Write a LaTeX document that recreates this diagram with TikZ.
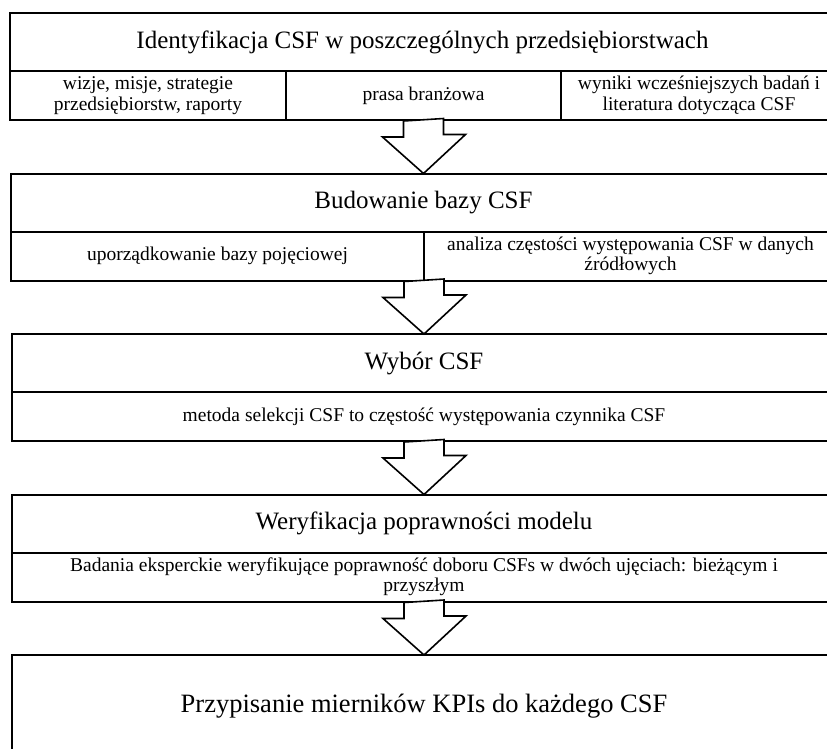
\documentclass[tikz,border=0pt]{standalone}
\usepackage{fontspec}
\setmainfont{Liberation Serif}
\usetikzlibrary{positioning, fit, calc}

\begin{document}
\begin{tikzpicture}[
  x=1pt, y=-1pt,
  % Node Styles
  titlerow/.style={rectangle, draw, line width=1pt, minimum width=824pt, minimum height=57pt, inner sep=0pt, align=center, font=\fontsize{25}{29}\selectfont},
  cellrow/.style={rectangle, draw, line width=1pt, minimum height=48pt, inner sep=0pt, align=center, font=\fontsize{19.5}{20.5}\selectfont},
  bigrow/.style={rectangle, draw, line width=1pt, minimum width=824pt, minimum height=102pt, inner sep=0pt, align=center, font=\fontsize{26.5}{31}\selectfont},
  frame/.style={rectangle, draw, line width=2pt, inner sep=0pt},
  % Arrow Styles
  blockarrow/.style={draw, line width=1.6pt, fill=white, line join=miter}
]
\useasboundingbox (0,0) rectangle (827,748);
\clip (0,0) rectangle (827,748);

% Nodes
\node[titlerow, anchor=north west] (IdentTitle) at (10,13) {Identyfikacja CSF w poszczególnych przedsiębiorstwach};
\node[cellrow, minimum width=275pt, below right=0pt and 0pt of IdentTitle.south west] (IdentSrcA) {wizje, misje, strategie\\ przedsiębiorstw, raporty};
\node[cellrow, minimum width=274pt, right=0pt of IdentSrcA] (IdentSrcB) {prasa branżowa};
\node[cellrow, minimum width=275pt, right=0pt of IdentSrcB] (IdentSrcC) {wyniki wcześniejszych badań i\\ literatura dotycząca CSF};
\node[frame, fit=(IdentTitle) (IdentSrcA) (IdentSrcC)] (Ident) {};

\node[titlerow, below=52.5pt of Ident] (BuildTitle) {Budowanie bazy CSF};
\node[cellrow, minimum width=412pt, below right=0pt and 0pt of BuildTitle.south west] (BuildSrcA) {uporządkowanie bazy pojęciowej};
\node[cellrow, minimum width=412pt, right=0pt of BuildSrcA] (BuildSrcB) {analiza częstości występowania CSF w danych\\ źródłowych};
\node[frame, fit=(BuildTitle) (BuildSrcA) (BuildSrcB)] (Build) {};

\node[titlerow, below=52.5pt of Build] (ChoiceTitle) {Wybór CSF};
\node[cellrow, minimum width=824pt, below=0pt of ChoiceTitle] (ChoiceSrc) {metoda selekcji CSF to częstość występowania czynnika CSF};
\node[frame, fit=(ChoiceTitle) (ChoiceSrc)] (Choice) {};

\node[titlerow, below=52.5pt of Choice] (VerifyTitle) {Weryfikacja poprawności modelu};
\node[cellrow, minimum width=824pt, below=0pt of VerifyTitle, font=\fontsize{19.5}{20}\selectfont] (VerifySrc) {Badania eksperckie weryfikujące poprawność doboru CSFs w dwóch ujęciach: bieżącym i\\ przyszłym};
\node[frame, fit=(VerifyTitle) (VerifySrc)] (Verify) {};

\node[bigrow, below=52.5pt of Verify] (AssignTitle) {Przypisanie mierników KPIs do każdego CSF};
\node[frame, fit=(AssignTitle)] (Assign) {};

% Arrows
\draw[blockarrow] ([xshift=-20pt]Ident.south) -- ++(0,16) -- ++(-21,0) -- (BuildTitle.north) -- ++(42,-39) -- ++(-22,0) -- ++(0,-16) -- cycle;
\draw[blockarrow] ([xshift=-20pt]Build.south) -- ++(0,16) -- ++(-21,0) -- (ChoiceTitle.north) -- ++(42,-39) -- ++(-22,0) -- ++(0,-16) -- cycle;
\draw[blockarrow] ([xshift=-20pt]Choice.south) -- ++(0,16) -- ++(-21,0) -- (VerifyTitle.north) -- ++(42,-39) -- ++(-22,0) -- ++(0,-16) -- cycle;
\draw[blockarrow] ([xshift=-20pt]Verify.south) -- ++(0,16) -- ++(-21,0) -- (AssignTitle.north) -- ++(42,-39) -- ++(-22,0) -- ++(0,-16) -- cycle;

\end{tikzpicture}
\end{document}
